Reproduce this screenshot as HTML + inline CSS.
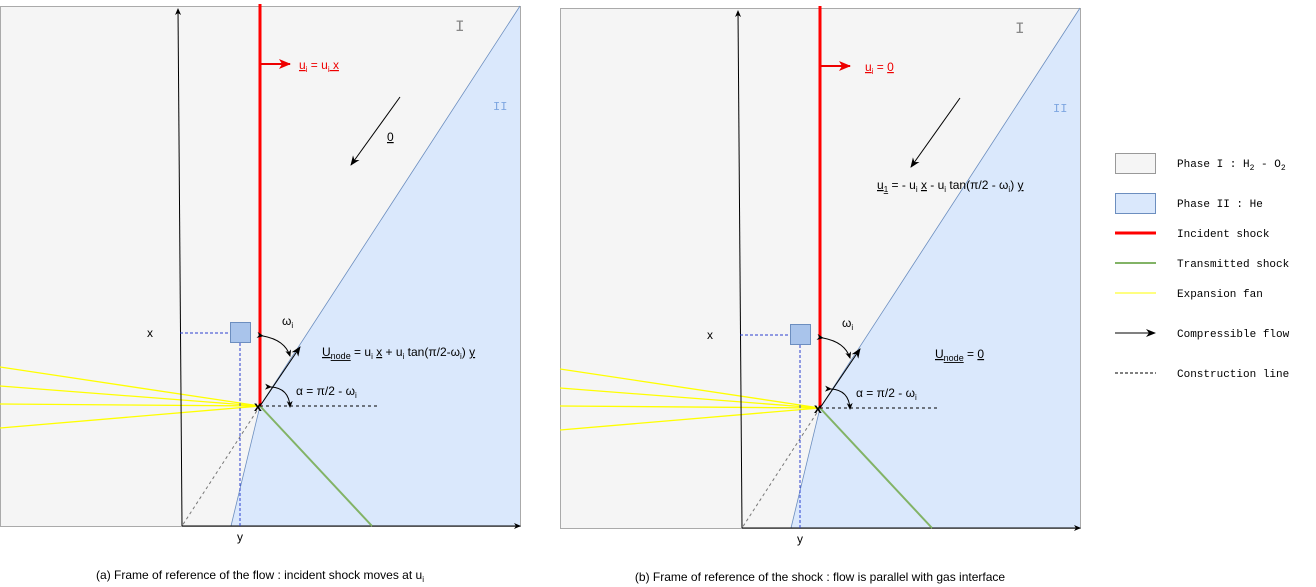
<!DOCTYPE html>
<html><head><meta charset="utf-8"><style>
body{margin:0;background:#fff;width:1316px;height:587px;overflow:hidden}
svg{display:block;font-family:"Liberation Sans",sans-serif}
.mono{font-family:"Liberation Mono",monospace;font-size:11px;fill:#000}
</style></head><body>
<svg width="1316" height="587" viewBox="0 0 1316 587">
<defs>
<marker id="ah" markerWidth="10" markerHeight="8" refX="9" refY="4" orient="auto" markerUnits="userSpaceOnUse"><path d="M0,0 L10,4 L0,8 L3,4 Z" fill="#000"/></marker>
<marker id="ahr" markerWidth="12" markerHeight="10" refX="11" refY="5" orient="auto" markerUnits="userSpaceOnUse"><path d="M0,0 L12,5 L0,10 L3,5 Z" fill="#e00"/></marker>
<marker id="as" markerWidth="7" markerHeight="6" refX="6" refY="3" orient="auto" markerUnits="userSpaceOnUse"><path d="M0,0 L7,3 L0,6 L2,3 Z" fill="#000"/></marker>
</defs>

<g>
<rect x="0.5" y="6.5" width="520" height="520" fill="#f5f5f5" stroke="#aaa"/>
<polygon points="520,6 520,526 231,526 260,406" fill="#dae8fc"/>
<polyline points="520,6 260,406 231,526" fill="none" stroke="#6c8ebf" stroke-width="0.8"/>
<g stroke="#ffff00" stroke-width="1.3">
<line x1="0" y1="367" x2="260" y2="406"/><line x1="0" y1="386" x2="260" y2="406"/><line x1="0" y1="404" x2="260" y2="406"/><line x1="0" y1="428" x2="260" y2="406"/></g>
<line x1="182" y1="526" x2="178" y2="9" stroke="#000" marker-end="url(#as)"/>
<line x1="182" y1="526" x2="520" y2="526" stroke="#000" marker-end="url(#as)"/>
<line x1="260" y1="406" x2="372" y2="526" stroke="#82b366" stroke-width="2"/>
<line x1="260" y1="406" x2="182" y2="526" stroke="#777" stroke-dasharray="3,3"/>
<line x1="260" y1="406" x2="378" y2="406" stroke="#000" stroke-dasharray="3,3"/>
<line x1="180" y1="333" x2="230" y2="333" stroke="#2a3fd0" stroke-dasharray="3,2"/>
<line x1="240" y1="343" x2="240" y2="526" stroke="#2a3fd0" stroke-dasharray="3,2"/>
<rect x="230.5" y="322.5" width="20" height="20" fill="#a9c4eb" stroke="#6c8ebf"/>
<line x1="260" y1="4" x2="260" y2="406" stroke="#f00" stroke-width="3"/>
<line x1="261" y1="64" x2="290" y2="64" stroke="#e00" stroke-width="2" marker-end="url(#ahr)"/>
<line x1="400" y1="97" x2="351" y2="165" stroke="#000" marker-end="url(#ah)"/>
<line x1="260" y1="406" x2="300" y2="347" stroke="#000" marker-end="url(#ah)"/>
<path d="M263,336 Q285,340 290,356" fill="none" stroke="#000" marker-start="url(#as)" marker-end="url(#as)"/>
<path d="M271,387 Q289,388 290,407" fill="none" stroke="#000" marker-start="url(#as)" marker-end="url(#as)"/>
<text x="254" y="411" font-size="14" font-weight="bold">x</text>
<text x="299" y="69" font-size="12" fill="#e00"><tspan text-decoration="underline">u</tspan><tspan font-size="8" dy="3">i</tspan><tspan dy="-3"> = u</tspan><tspan font-size="8" dy="3">i</tspan><tspan dy="-3" text-decoration="underline"> x</tspan></text>
<text x="387" y="141" font-size="12" text-decoration="underline">0</text>
<text x="282" y="325" font-size="12">ω<tspan font-size="8" dy="3">i</tspan></text>
<text x="296" y="395" font-size="12">α = π/2 - ω<tspan font-size="8" dy="3">i</tspan></text>
<text x="322" y="356" font-size="12"><tspan text-decoration="underline">U</tspan><tspan font-size="9" dy="3" text-decoration="underline">node</tspan><tspan dy="-3"> = u</tspan><tspan font-size="8" dy="3">i</tspan><tspan dy="-3"> </tspan><tspan text-decoration="underline">x</tspan><tspan> + u</tspan><tspan font-size="8" dy="3">i</tspan><tspan dy="-3"> tan(π/2-ω</tspan><tspan font-size="8" dy="3">i</tspan><tspan dy="-3">) </tspan><tspan text-decoration="underline">y</tspan></text>
<text x="147" y="337" font-size="12">x</text>
<text x="237" y="541" font-size="12">y</text>
<text x="455" y="31" font-size="16" fill="#888" font-family="Liberation Mono">I</text>
<text x="493" y="110" font-size="12" fill="#7ea6e0" font-family="Liberation Mono">II</text>
<text x="260" y="579" font-size="12" text-anchor="middle">(a) Frame of reference of the flow : incident shock moves at u<tspan font-size="8" dy="3">i</tspan></text>
</g>

<g transform="translate(560,2)">
<rect x="0.5" y="6.5" width="520" height="520" fill="#f5f5f5" stroke="#aaa"/>
<polygon points="520,6 520,526 231,526 260,406" fill="#dae8fc"/>
<polyline points="520,6 260,406 231,526" fill="none" stroke="#6c8ebf" stroke-width="0.8"/>
<g stroke="#ffff00" stroke-width="1.3">
<line x1="0" y1="367" x2="260" y2="406"/><line x1="0" y1="386" x2="260" y2="406"/><line x1="0" y1="404" x2="260" y2="406"/><line x1="0" y1="428" x2="260" y2="406"/></g>
<line x1="182" y1="526" x2="178" y2="9" stroke="#000" marker-end="url(#as)"/>
<line x1="182" y1="526" x2="520" y2="526" stroke="#000" marker-end="url(#as)"/>
<line x1="260" y1="406" x2="372" y2="526" stroke="#82b366" stroke-width="2"/>
<line x1="260" y1="406" x2="182" y2="526" stroke="#777" stroke-dasharray="3,3"/>
<line x1="260" y1="406" x2="378" y2="406" stroke="#000" stroke-dasharray="3,3"/>
<line x1="180" y1="333" x2="230" y2="333" stroke="#2a3fd0" stroke-dasharray="3,2"/>
<line x1="240" y1="343" x2="240" y2="526" stroke="#2a3fd0" stroke-dasharray="3,2"/>
<rect x="230.5" y="322.5" width="20" height="20" fill="#a9c4eb" stroke="#6c8ebf"/>
<line x1="260" y1="4" x2="260" y2="406" stroke="#f00" stroke-width="3"/>
<line x1="261" y1="64" x2="290" y2="64" stroke="#e00" stroke-width="2" marker-end="url(#ahr)"/>
<line x1="400" y1="96" x2="351" y2="165" stroke="#000" marker-end="url(#ah)"/>
<line x1="260" y1="406" x2="300" y2="347" stroke="#000" marker-end="url(#ah)"/>
<path d="M263,336 Q285,340 290,356" fill="none" stroke="#000" marker-start="url(#as)" marker-end="url(#as)"/>
<path d="M271,387 Q289,388 290,407" fill="none" stroke="#000" marker-start="url(#as)" marker-end="url(#as)"/>
<text x="254" y="411" font-size="14" font-weight="bold">x</text>
<text x="305" y="69" font-size="12" fill="#e00"><tspan text-decoration="underline">u</tspan><tspan font-size="8" dy="3">i</tspan><tspan dy="-3"> = </tspan><tspan text-decoration="underline">0</tspan></text>
<text x="317" y="187" font-size="12"><tspan text-decoration="underline">u</tspan><tspan font-size="8" dy="3" text-decoration="underline">1</tspan><tspan dy="-3"> = - u</tspan><tspan font-size="8" dy="3">i</tspan><tspan dy="-3"> </tspan><tspan text-decoration="underline">x</tspan><tspan> - u</tspan><tspan font-size="8" dy="3">i</tspan><tspan dy="-3"> tan(π/2 - ω</tspan><tspan font-size="8" dy="3">i</tspan><tspan dy="-3">) </tspan><tspan text-decoration="underline">y</tspan></text>
<text x="282" y="325" font-size="12">ω<tspan font-size="8" dy="3">i</tspan></text>
<text x="296" y="395" font-size="12">α = π/2 - ω<tspan font-size="8" dy="3">i</tspan></text>
<text x="375" y="356" font-size="12"><tspan text-decoration="underline">U</tspan><tspan font-size="9" dy="3" text-decoration="underline">node</tspan><tspan dy="-3"> = </tspan><tspan text-decoration="underline">0</tspan></text>
<text x="147" y="337" font-size="12">x</text>
<text x="237" y="541" font-size="12">y</text>
<text x="455" y="31" font-size="16" fill="#888" font-family="Liberation Mono">I</text>
<text x="493" y="110" font-size="12" fill="#7ea6e0" font-family="Liberation Mono">II</text>
<text x="260" y="579" font-size="12" text-anchor="middle">(b) Frame of reference of the shock : flow is parallel with gas interface</text>
</g>

<g>
<rect x="1115.5" y="153.5" width="40" height="20" fill="#f5f5f5" stroke="#999"/>
<text x="1177" y="167" class="mono">Phase I : H<tspan font-size="8" dy="3">2</tspan><tspan dy="-3"> - O</tspan><tspan font-size="8" dy="3">2</tspan></text>
<rect x="1115.5" y="193.5" width="40" height="20" fill="#dae8fc" stroke="#6c8ebf"/>
<text x="1177" y="207" class="mono">Phase II : He</text>
<line x1="1115" y1="233" x2="1156" y2="233" stroke="#f00" stroke-width="3"/>
<text x="1177" y="237" class="mono">Incident shock</text>
<line x1="1115" y1="263" x2="1156" y2="263" stroke="#82b366" stroke-width="2"/>
<text x="1177" y="267" class="mono">Transmitted shock</text>
<line x1="1115" y1="293" x2="1156" y2="293" stroke="#ffff00" stroke-width="1"/>
<text x="1177" y="297" class="mono">Expansion fan</text>
<line x1="1115" y1="333" x2="1155" y2="333" stroke="#000" marker-end="url(#ah)"/>
<text x="1177" y="337" class="mono">Compressible flow</text>
<line x1="1115" y1="373" x2="1156" y2="373" stroke="#000" stroke-dasharray="3,2"/>
<text x="1177" y="377" class="mono">Construction line</text>
</g>
</svg>
</body></html>
